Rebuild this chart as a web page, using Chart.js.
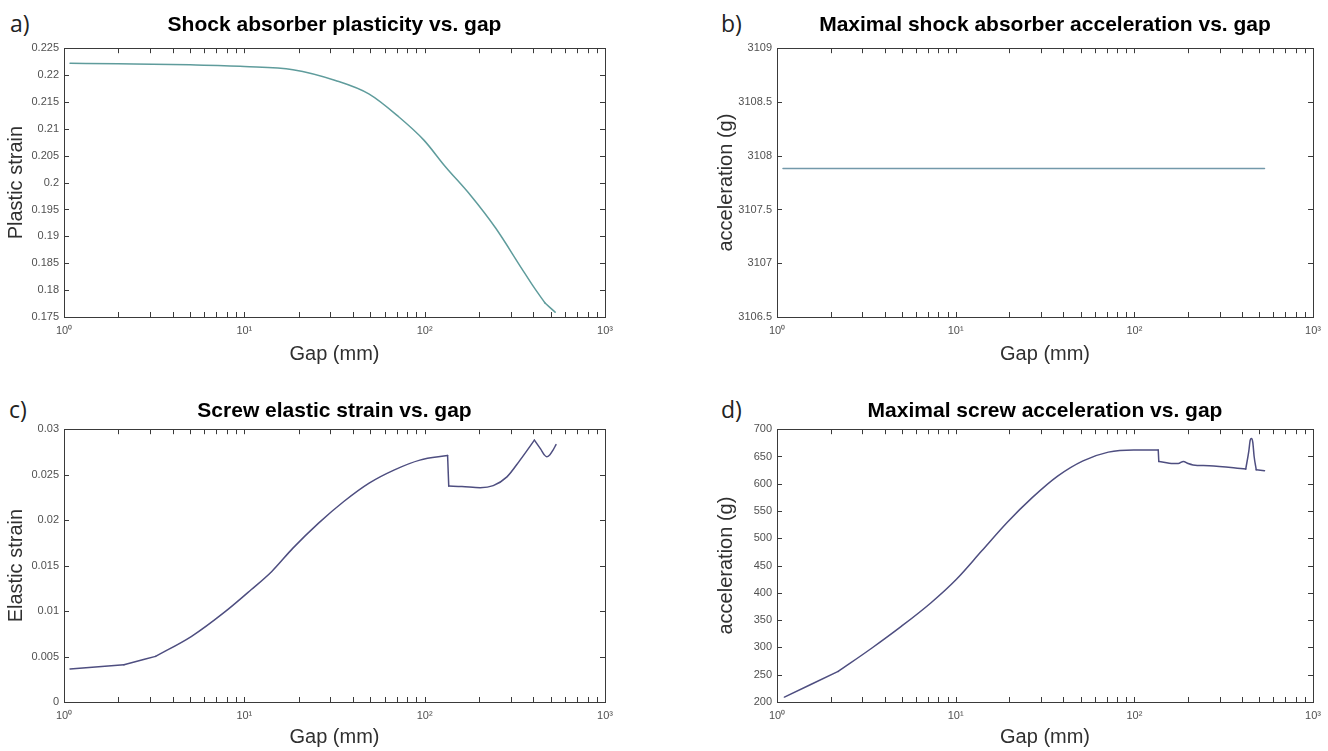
<!DOCTYPE html>
<html>
<head>
<meta charset="utf-8">
<title>Gap study</title>
<script src="https://cdn.jsdelivr.net/npm/chart.js@4.4.1/dist/chart.umd.min.js"></script>
<style>
  body { margin: 0; background: #fff; width: 1328px; height: 751px; position: relative; overflow: hidden; }
  .panel { position: absolute; }
  .tag { position: absolute; font-family: 'Open Sans', sans-serif; font-size: 23px; line-height: 1; color: #222; }
</style>
</head>
<body>
<div class="tag" style="left:10px;top:12px">a)</div>
<div class="tag" style="left:721px;top:12px">b)</div>
<div class="tag" style="left:9px;top:398px">c)</div>
<div class="tag" style="left:721px;top:398px">d)</div>

<div class="panel" style="left:0;top:0;width:664px;height:375px"><canvas id="chart-a"></canvas></div>
<div class="panel" style="left:664px;top:0;width:664px;height:375px"><canvas id="chart-b"></canvas></div>
<div class="panel" style="left:0;top:375px;width:664px;height:376px"><canvas id="chart-c"></canvas></div>
<div class="panel" style="left:664px;top:375px;width:664px;height:376px"><canvas id="chart-d"></canvas></div>

<script>
// x axis (log) tick positions and decade labels
const gapTicks = [1, 2, 3, 4, 5, 6, 7, 8, 9, 10, 20, 30, 40, 50, 60, 70, 80, 90,
    100, 200, 300, 400, 500, 600, 700, 800, 900, 1000];
const decadeLabels = ['10⁰', '10¹', '10²', '10³'];

// a) shock absorber plasticity
const gapA = [1.08, 2, 5, 10, 18.6, 32, 49, 72, 99, 130, 180, 248, 344, 404, 465, 529];
const strainA = [0.2222, 0.2221, 0.2219, 0.2216, 0.221, 0.219, 0.2165, 0.2122, 0.2079,
    0.203, 0.1976, 0.1915, 0.1841, 0.1805, 0.1776, 0.1759];

// b) max shock absorber acceleration
const gapB = [1.08, 535];
const accelB = [3107.88, 3107.88];

// c) screw elastic strain
const gapC = [1.08, 2.15, 3.22, 5.1, 7.86, 10.9, 14.2, 18.6, 25.8, 35.6, 49.2, 68, 94, 134,
    136, 161, 203, 240, 286, 338, 406, 440, 460, 475, 495, 515, 535];
const strainC = [0.00363, 0.0041, 0.00502, 0.00722, 0.00996, 0.01234, 0.01436, 0.01692,
    0.01967, 0.02205, 0.02407, 0.02553, 0.0266, 0.0271, 0.02374, 0.0237, 0.02357, 0.0238,
    0.02476, 0.0266, 0.0288, 0.0278, 0.0272, 0.02697, 0.0272, 0.0277, 0.0283];

// d) max screw acceleration
const gapD = [1.1, 2.2, 3.4, 4.98, 7.28, 10.1, 14, 19.4, 26.9, 37.2, 51.6, 71.5, 99, 136,
    137, 165, 176, 188, 200, 213, 262, 420, 437, 445, 452, 460, 468, 481, 535];
const accelD = [209, 256, 299, 339, 382, 425, 477, 529, 575, 614, 642, 658, 662, 662,
    641, 637, 637, 641, 637, 634.5, 633, 627, 660, 680, 683, 676, 650, 625.5, 624];

const FONT = "'Liberation Sans', Arial, sans-serif";

// MATLAB style box with inward ticks on all four sides
const boxTicks = {
    id: 'boxTicks',
    afterDatasetsDraw(chart) {
        const { ctx, chartArea, scales } = chart;
        const { left, right, top, bottom } = chartArea;
        ctx.save();
        ctx.strokeStyle = '#3a3a3a';
        ctx.lineWidth = 1;
        ctx.beginPath();
        for (const t of scales.x.ticks) {
            const px = Math.round(scales.x.getPixelForValue(t.value)) + 0.5;
            ctx.moveTo(px, bottom); ctx.lineTo(px, bottom - 5);
            ctx.moveTo(px, top); ctx.lineTo(px, top + 5);
        }
        for (const t of scales.y.ticks) {
            const py = Math.round(scales.y.getPixelForValue(t.value)) + 0.5;
            ctx.moveTo(left, py); ctx.lineTo(left + 5, py);
            ctx.moveTo(right, py); ctx.lineTo(right - 5, py);
        }
        ctx.stroke();
        ctx.strokeRect(Math.round(left) + 0.5, Math.round(top) + 0.5,
            Math.round(right - left), Math.round(bottom - top));
        ctx.restore();
    },
};

// cut the curve at its sharp corners so each smooth stretch is its own dataset
function splitAt(points, corners) {
    const cuts = [0, ...corners, points.length - 1];
    const parts = [];
    for (let i = 0; i < cuts.length - 1; i++) {
        parts.push(points.slice(cuts[i], cuts[i + 1] + 1));
    }
    return parts;
}

function makePanel(id, p) {
    const points = p.xs.map((x, i) => ({ x: x, y: p.ys[i] }));
    const datasets = splitAt(points, p.corners).map((part) => ({
        data: part,
        borderColor: p.color,
        borderWidth: 1.5,
        borderCapStyle: 'round',
        pointRadius: 0,
        cubicInterpolationMode: 'monotone',
    }));
    return new Chart(document.getElementById(id), {
        type: 'line',
        data: { datasets },
        options: {
            responsive: true,
            maintainAspectRatio: false,
            animation: false,
            layout: { padding: { left: p.padLeft, right: p.padRight, top: 0, bottom: 0 } },
            plugins: {
                legend: { display: false },
                tooltip: { enabled: false },
                title: {
                    display: true,
                    text: p.title,
                    fullSize: false,
                    color: '#000',
                    font: { family: FONT, size: 21, weight: 'bold', lineHeight: 1.2 },
                    padding: { top: p.titleTop, bottom: p.titleBottom },
                },
            },
            scales: {
                x: {
                    type: 'logarithmic',
                    min: 1,
                    max: 1000,
                    afterBuildTicks: (axis) => { axis.ticks = gapTicks.map((v) => ({ value: v })); },
                    afterFit: (axis) => { axis.height = p.xHeight; },
                    grid: { display: false, drawTicks: false },
                    border: { display: false },
                    ticks: {
                        autoSkip: false,
                        maxRotation: 0,
                        padding: 7,
                        color: '#505050',
                        font: { family: FONT, size: 11 },
                        callback: (v) => {
                            const e = Math.round(Math.log10(v));
                            return Math.abs(v - Math.pow(10, e)) < 1e-9 ? decadeLabels[e] : '';
                        },
                    },
                    title: {
                        display: true,
                        text: 'Gap (mm)',
                        color: '#303030',
                        font: { family: FONT, size: 20 },
                        padding: { top: 0, bottom: p.xTitleBottom },
                    },
                },
                y: {
                    min: p.yMin,
                    max: p.yMax,
                    afterFit: (axis) => { axis.width = p.yWidth; },
                    grid: { display: false, drawTicks: false },
                    border: { display: false },
                    ticks: {
                        stepSize: p.yStep,
                        padding: 5,
                        color: '#505050',
                        font: { family: FONT, size: 11 },
                        callback: (v) => String(Number(v.toFixed(4))),
                    },
                    title: {
                        display: true,
                        text: p.yTitle,
                        color: '#303030',
                        font: { family: FONT, size: 20 },
                        padding: { top: 4, bottom: 0 },
                    },
                },
            },
        },
        plugins: [boxTicks],
    });
}

makePanel('chart-a', {
    xs: gapA, ys: strainA, corners: [14], color: '#5f9c9c',
    title: 'Shock absorber plasticity vs. gap', yTitle: 'Plastic strain',
    yMin: 0.175, yMax: 0.225, yStep: 0.005,
    padLeft: 0, padRight: 59, yWidth: 64, titleTop: 13, titleBottom: 10, xHeight: 58, xTitleBottom: 9,
});

makePanel('chart-b', {
    xs: gapB, ys: accelB, corners: [], color: '#7399aa',
    title: 'Maximal shock absorber acceleration vs. gap', yTitle: 'acceleration (g)',
    yMin: 3106.5, yMax: 3109, yStep: 0.5,
    padLeft: 46, padRight: 10, yWidth: 67, titleTop: 13, titleBottom: 10, xHeight: 58, xTitleBottom: 9,
});

makePanel('chart-c', {
    xs: gapC, ys: strainC, corners: [1, 2, 13, 14, 20], color: '#4e4e80',
    title: 'Screw elastic strain vs. gap', yTitle: 'Elastic strain',
    yMin: 0, yMax: 0.03, yStep: 0.005,
    padLeft: 0, padRight: 59, yWidth: 64, titleTop: 24, titleBottom: 5, xHeight: 49, xTitleBottom: 2,
});

makePanel('chart-d', {
    xs: gapD, ys: accelD, corners: [1, 13, 14, 21, 27], color: '#4e4e80',
    title: 'Maximal screw acceleration vs. gap', yTitle: 'acceleration (g)',
    yMin: 200, yMax: 700, yStep: 50,
    padLeft: 46, padRight: 10, yWidth: 67, titleTop: 24, titleBottom: 5, xHeight: 49, xTitleBottom: 2,
});
</script>
</body>
</html>
